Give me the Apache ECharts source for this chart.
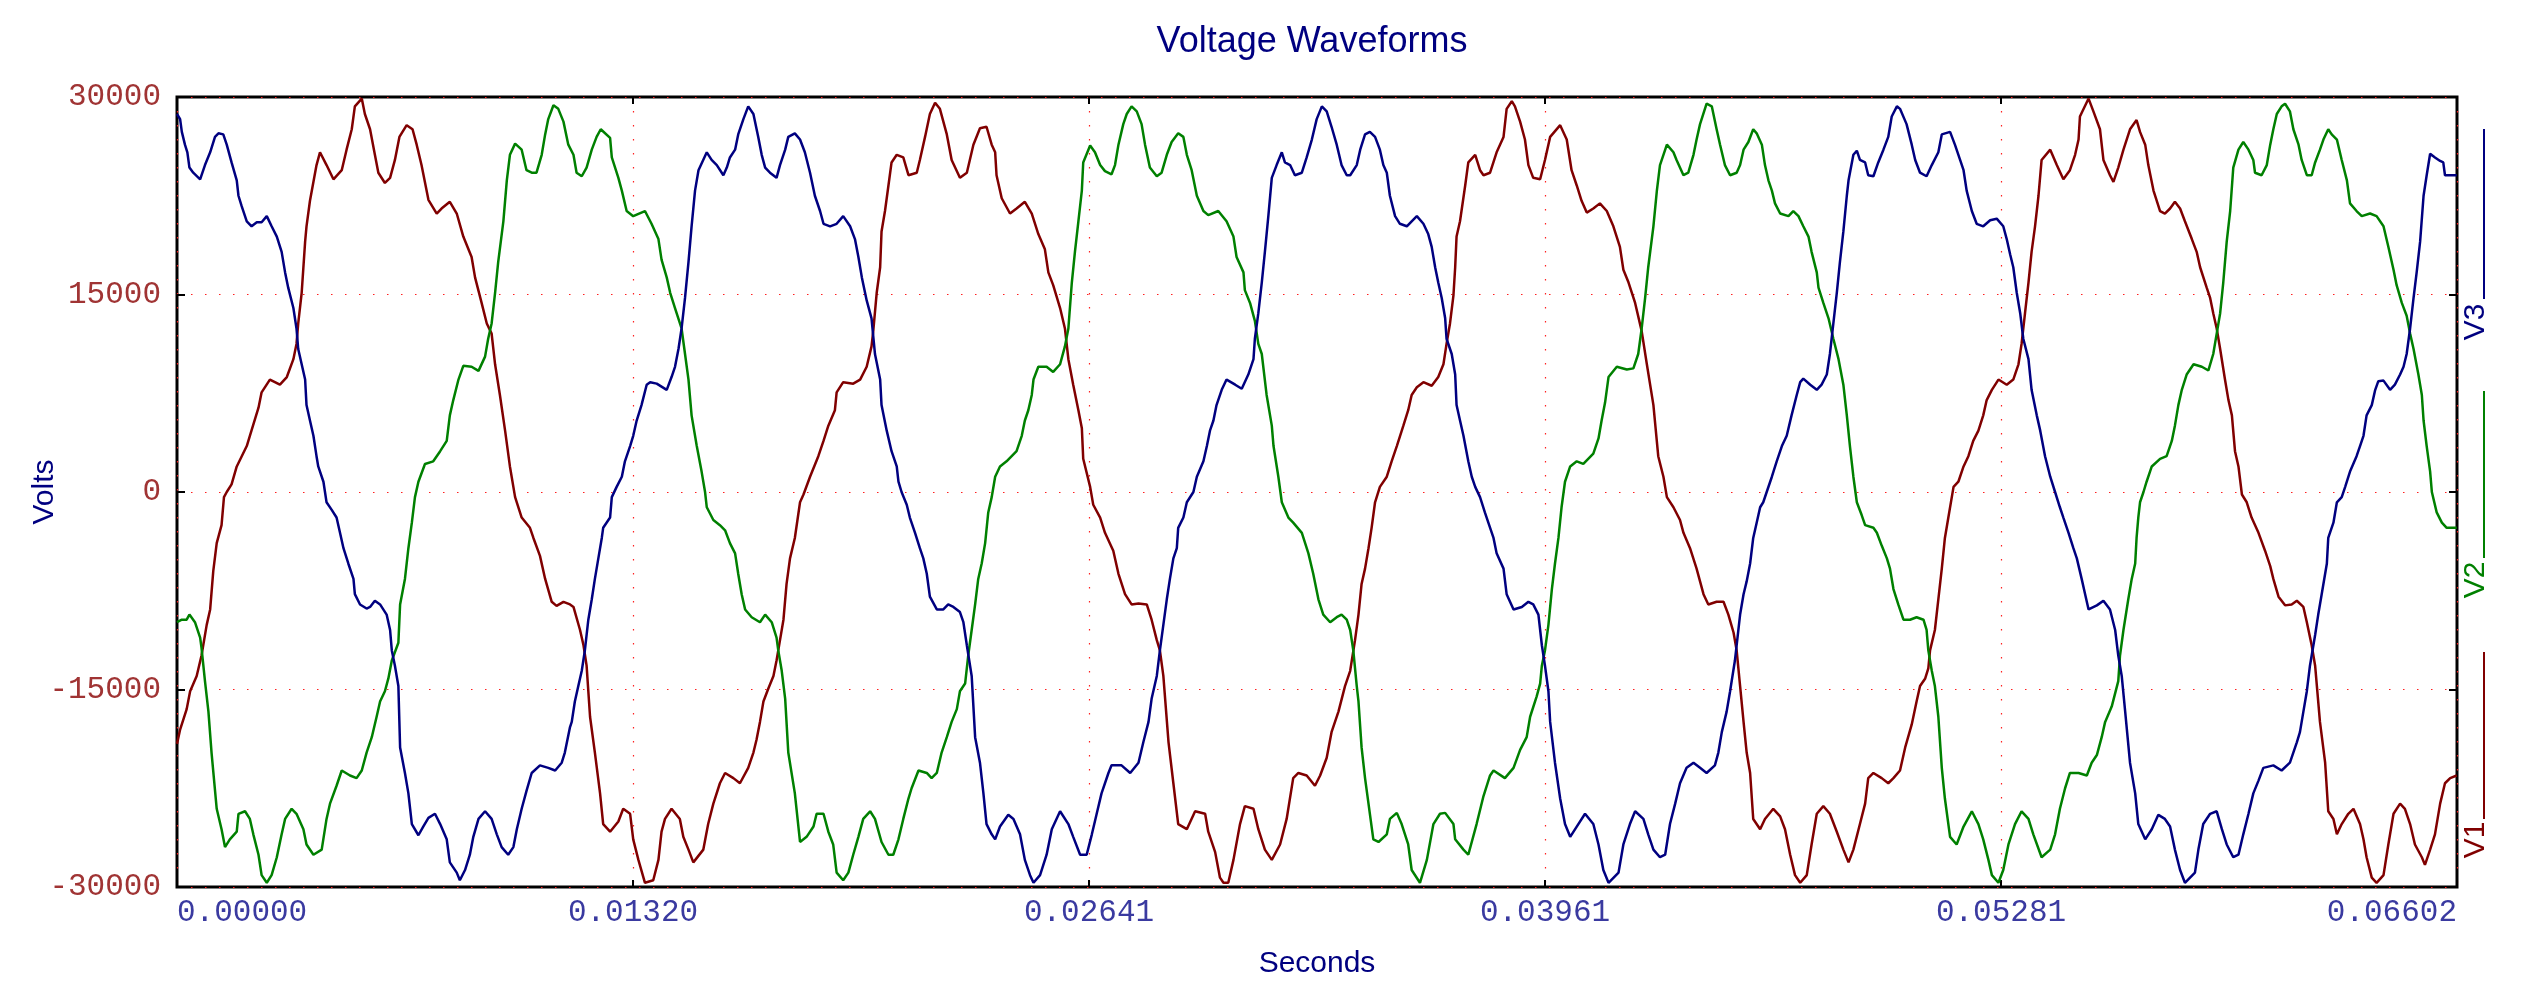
<!DOCTYPE html>
<html><head><meta charset="utf-8">
<script src="https://cdn.jsdelivr.net/npm/echarts@6/dist/echarts.min.js"></script>
<style>html,body{margin:0;padding:0;background:#fff}#c{width:2521px;height:1004px}</style>
</head><body><div id="c"></div>
<script>
const titleText = 'Voltage Waveforms';
const xName = 'Seconds';
const yName = 'Volts';
const seriesNames = ['V1', 'V2', 'V3'];
const seriesColors = ['#800000', '#008000', '#000080'];
const xTickLabels = ['0.00000', '0.01320', '0.02641', '0.03961', '0.05281', '0.06602'];
const yTickValues = [-30000, -15000, 0, 15000, 30000];

// [seconds, volts]
const V1 = [
[0,-19130],[0.00009,-18040],[0.00028,-16490],[0.00038,-15130],[0.00057,-13970],[0.00071,-12420],[0.00086,-10090],[0.00096,-8920],[0.00105,-6010],[0.00115,-3880],[0.00129,-2520],[0.00136,-390],[0.00144,0],[0.00158,580],[0.00173,1940],[0.00202,3490],[0.00211,4270],[0.00236,6400],[0.00245,7570],[0.00269,8540],[0.00298,8150],[0.00318,8730],[0.00337,10090],[0.00346,11250],[0.00351,12800],[0.00361,15130],[0.00371,19010],[0.00375,20180],[0.00385,22120],[0.00404,24830],[0.00414,25800],[0.00433,24830],[0.00453,23750],[0.00477,24440],[0.00491,26000],[0.00506,27550],[0.00515,29290],[0.00535,29880],[0.00544,28710],[0.00559,27550],[0.00573,25610],[0.00583,24250],[0.00602,23470],[0.00617,23860],[0.00631,25220],[0.00644,26970],[0.00665,27860],[0.00682,27550],[0.00694,26380],[0.00708,24830],[0.00728,22190],[0.00752,21150],[0.00766,21530],[0.00790,22040],[0.00810,21150],[0.00829,19400],[0.00853,17850],[0.00863,16300],[0.00882,14360],[0.00897,12800],[0.00911,12030],[0.00921,9700],[0.00935,7370],[0.00950,4660],[0.00964,1940],[0.00979,-390],[0.00998,-1940],[0.01022,-2720],[0.01032,-3490],[0.01051,-4850],[0.01066,-6600],[0.01085,-8340],[0.01099,-8650],[0.01119,-8340],[0.01138,-8540],
[0.01148,-8730],[0.01167,-10480],[0.01177,-11640],[0.01186,-13190],[0.01196,-17070],[0.01210,-19790],[0.01225,-22890],[0.01234,-25220],[0.01254,-25800],[0.01278,-25030],[0.01292,-24060],[0.01312,-24440],[0.01321,-26380],[0.01336,-27940],[0.01355,-29680],[0.01379,-29490],[0.01394,-27940],[0.01403,-25800],[0.01413,-24830],[0.01432,-24060],[0.01456,-24830],[0.01466,-26190],[0.01481,-27160],[0.01495,-28130],[0.01524,-27160],[0.01538,-25220],[0.01553,-23670],[0.01572,-22120],[0.01587,-21340],[0.01611,-21730],[0.01630,-22120],[0.01654,-20950],[0.01669,-19790],[0.01678,-18820],[0.01688,-17460],[0.01698,-15910],[0.01712,-14940],[0.01727,-13970],[0.01736,-12800],[0.01746,-11250],[0.01756,-9700],[0.01765,-6980],[0.01775,-5040],[0.01789,-3490],[0.01804,-780],[0.01814,-190],[0.01833,1160],[0.01857,2720],[0.01872,3880],[0.01886,5040],[0.01905,6210],[0.01910,7570],[0.01929,8340],[0.01958,8230],[0.01978,8540],[0.01997,9510],[0.02011,11060],[0.02016,12220],[0.02026,15130],[0.02036,17070],[0.02040,19790],[0.02050,21340],[0.02060,23280],[0.02069,25030],[0.02084,25610],[0.02103,25410],[0.02118,24060],[0.02142,24250],[0.02151,25220],[0.02166,26970],[0.02180,28710],[0.02195,29570],[0.02209,29100],[0.02229,27160],[0.02243,25220],[0.02267,23860],
[0.02287,24250],[0.02306,26380],[0.02325,27630],[0.02344,27740],[0.02359,26380],[0.02369,25800],[0.02373,24060],[0.02388,22310],[0.02412,21150],[0.02431,21530],[0.02455,22040],[0.02475,21150],[0.02494,19590],[0.02513,18430],[0.02523,16680],[0.02537,15710],[0.02557,13970],[0.02571,12420],[0.02581,10090],[0.02595,8150],[0.02610,6210],[0.02620,4850],[0.02624,2520],[0.02644,390],[0.02653,-970],[0.02673,-1940],[0.02687,-3100],[0.02711,-4460],[0.02726,-6210],[0.02745,-7760],[0.02764,-8540],[0.02784,-8460],[0.02808,-8540],[0.02822,-9700],[0.02837,-11250],[0.02846,-12030],[0.02856,-13970],[0.02871,-19010],[0.02885,-22120],[0.02899,-25220],[0.02924,-25610],[0.02948,-24250],[0.02977,-24440],[0.02986,-25800],[0.03006,-27350],[0.03020,-29290],[0.03030,-29680],[0.03044,-29680],[0.03059,-27940],[0.03078,-25220],[0.03092,-23860],[0.03117,-24060],[0.03131,-25610],[0.03150,-27160],[0.03170,-27940],[0.03194,-26770],[0.03213,-24830],[0.03232,-21730],[0.03247,-21340],[0.03271,-21530],[0.03295,-22310],[0.03310,-21530],[0.03329,-20180],[0.03343,-18240],[0.03363,-16680],[0.03382,-14740],[0.03397,-13580],
[0.03411,-11250],[0.03421,-9310],[0.03430,-6980],[0.03440,-5820],[0.03450,-4270],[0.03459,-2720],[0.03469,-780],[0.03483,390],[0.03503,1160],[0.03517,2330],[0.03532,3490],[0.03551,5040],[0.03565,6210],[0.03575,7370],[0.03590,7950],[0.03609,8340],[0.03633,8070],[0.03652,8730],[0.03667,9700],[0.03676,11250],[0.03686,12800],[0.03696,14940],[0.03701,17070],[0.03705,19400],[0.03715,20560],[0.03730,23280],[0.03739,25030],[0.03759,25610],[0.03773,24440],[0.03783,24060],[0.03802,24250],[0.03821,25800],[0.03841,26970],[0.03850,29100],[0.03865,29680],[0.03874,29290],[0.03889,28130],[0.03903,26770],[0.03913,24830],[0.03927,23860],[0.03947,23750],[0.03961,25220],[0.03976,26970],[0.04005,27860],[0.04024,26770],[0.04038,24440],[0.04053,23280],[0.04067,22120],[0.04082,21220],[0.04101,21530],[0.04120,21920],[0.04140,21340],[0.04159,20180],[0.04178,18620],[0.04188,16880],[0.04203,15910],[0.04222,14360],[0.04241,12220],[0.04256,9700],[0.04275,6600],[0.04289,2720],[0.04304,1160],[0.04314,-390],[0.04333,-1160],[0.04352,-2130],[0.04362,-3100],[0.04381,-4270],[0.04400,-5820],[0.04420,-7760],[0.04434,-8540],[0.04458,-8340],[0.04478,-8340],[0.04492,-9310],[0.04507,-10670],[0.04516,-12030],
[0.04526,-14740],[0.04536,-17460],[0.04545,-19790],[0.04555,-21340],[0.04564,-24830],[0.04584,-25610],[0.04598,-24830],[0.04622,-24060],[0.04642,-24640],[0.04656,-25610],[0.04671,-27550],[0.04685,-29100],[0.04700,-29680],[0.04719,-29100],[0.04733,-26770],[0.04748,-24440],[0.04767,-23860],[0.04786,-24440],[0.04806,-25800],[0.04825,-27160],[0.04840,-28130],[0.04854,-27160],[0.04873,-25220],[0.04888,-23670],[0.04897,-21730],[0.04912,-21340],[0.04936,-21730],[0.04955,-22120],[0.04970,-21730],[0.04989,-21150],[0.05004,-19400],[0.05023,-17650],[0.05037,-15910],[0.05047,-14740],[0.05062,-14160],[0.05071,-13390],[0.05076,-12030],[0.05090,-10480],[0.05100,-8150],[0.05110,-5820],[0.05119,-3490],[0.05129,-1940],[0.05144,390],[0.05158,780],[0.05173,1940],[0.05187,2720],[0.05201,3880],[0.05216,4660],[0.05230,5820],[0.05240,6980],[0.05255,7760],[0.05274,8540],[0.05298,8150],[0.05317,8540],[0.05332,9700],[0.05341,11250],[0.05351,13580],[0.05361,15910],[0.05370,18240],[0.05380,20180],[0.05390,22500],[0.05399,25220],[0.05424,26000],[0.05443,24830],[0.05462,23750],[0.05481,24440],[0.05496,25610],[0.05506,26770],[0.05510,28520],[0.05535,29880],[0.05549,28910],[0.05568,27550],[0.05578,25220],[0.05597,24060],[0.05607,23550],[0.05621,24640],[0.05636,26000],[0.05655,27550],
[0.05674,28250],[0.05684,27350],[0.05699,26380],[0.05708,24830],[0.05723,22890],[0.05742,21340],[0.05756,21150],[0.05771,21530],[0.05785,22040],[0.05800,21530],[0.05814,20560],[0.05834,19210],[0.05848,18240],[0.05858,17070],[0.05877,15520],[0.05887,14740],[0.05896,13580],[0.05906,12420],[0.05916,10860],[0.05930,8540],[0.05940,6980],[0.05950,5820],[0.05959,3100],[0.05969,1940],[0.05979,-190],[0.05993,-780],[0.06007,-1940],[0.06027,-3100],[0.06046,-4460],[0.06061,-5630],[0.06070,-6600],[0.06085,-7950],[0.06104,-8610],[0.06123,-8540],[0.06138,-8260],[0.06157,-8730],[0.06167,-9890],[0.06181,-11640],[0.06191,-13190],[0.06205,-17460],[0.06220,-20560],[0.06229,-24250],[0.06244,-24830],[0.06254,-26000],[0.06268,-25220],[0.06287,-24440],[0.06302,-24060],[0.06321,-25220],[0.06331,-26380],[0.06340,-27740],[0.06355,-29290],[0.06369,-29680],[0.06389,-29100],[0.06403,-26770],[0.06418,-24440],[0.06437,-23670],[0.06451,-24060],[0.06466,-25220],[0.06480,-26770],[0.06500,-27740],[0.06509,-28320],[0.06524,-27160],[0.06538,-26000],[0.06553,-23670],[0.06567,-22120],[0.06582,-21730],[0.06601,-21530]
];

const V2 = [
[0,-9890],[0.00014,-9700],[0.00028,-9700],[0.00036,-9310],[0.00052,-9890],[0.00067,-11060],[0.00071,-11830],[0.00081,-14360],[0.00091,-16680],[0.00100,-19790],[0.00115,-24060],[0.00129,-25610],[0.00139,-26970],[0.00153,-26380],[0.00173,-25800],[0.00178,-24440],[0.00197,-24250],[0.00211,-24830],[0.00221,-26000],[0.00236,-27550],[0.00245,-29100],[0.00260,-29680],[0.00274,-29100],[0.00289,-27740],[0.00303,-26000],[0.00313,-24830],[0.00332,-24060],[0.00346,-24440],[0.00366,-25610],[0.00375,-26770],[0.00395,-27550],[0.00419,-27160],[0.00433,-24830],[0.00443,-23670],[0.00462,-22310],[0.00477,-21150],[0.00501,-21530],[0.00520,-21730],[0.00535,-21150],[0.00549,-19790],[0.00564,-18620],[0.00578,-17070],[0.00588,-15910],[0.00602,-15130],[0.00612,-14160],[0.00622,-12800],[0.00641,-11450],[0.00646,-8540],[0.00660,-6600],[0.00670,-4270],[0.00680,-2330],[0.00689,-390],[0.00699,780],[0.00718,2130],[0.00742,2330],[0.00762,3100],[0.00781,3880],[0.00790,5820],[0.00800,6980],[0.00815,8540],[0.00829,9580],[0.00853,9510],[0.00873,9200],[0.00892,10280],[0.00901,11640],[0.00911,12800],[0.00921,15130],[0.00930,17460],[0.00945,20560],[0.00955,23670],[0.00964,25610],[0.00979,26460],[0.00998,26000],[0.01012,24440],[0.01027,24250],[0.01041,24250],[0.01056,25610],[0.01066,27160],[0.01075,28320],[0.01090,29370],[0.01104,29100],[0.01119,28130],[0.01133,26380],
[0.01148,25610],[0.01157,24250],[0.01172,23980],[0.01186,24640],[0.01201,26000],[0.01215,26970],[0.01227,27550],[0.01254,26890],[0.01259,25410],[0.01278,23860],[0.01288,22890],[0.01302,21340],[0.01321,20950],[0.01355,21340],[0.01374,20370],[0.01394,19210],[0.01403,17650],[0.01418,16300],[0.01428,15130],[0.01442,13970],[0.01461,12420],[0.01471,10480],[0.01481,8540],[0.01490,5820],[0.01505,3490],[0.01519,1550],[0.01529,0],[0.01534,-1160],[0.01553,-2130],[0.01572,-2520],[0.01587,-2910],[0.01601,-3880],[0.01616,-4660],[0.01625,-6210],[0.01635,-7760],[0.01645,-8920],[0.01664,-9510],[0.01688,-9890],[0.01703,-9310],[0.01722,-9890],[0.01736,-11060],[0.01741,-12030],[0.01751,-13580],[0.01761,-15710],[0.01770,-19790],[0.01789,-22890],[0.01804,-26580],[0.01823,-26190],[0.01843,-25410],[0.01852,-24440],[0.01872,-24440],[0.01886,-25800],[0.01900,-26770],[0.01910,-28910],[0.01929,-29490],[0.01944,-28910],[0.01958,-27550],[0.01973,-26190],[0.01987,-24830],[0.02007,-24250],[0.02021,-24830],[0.02040,-26580],[0.02060,-27550],[0.02074,-27550],[0.02089,-26380],[0.02103,-24830],[0.02118,-23280],[0.02127,-22500],[0.02147,-21150],[0.02171,-21340],[0.02185,-21730],[0.02200,-21340],[0.02214,-19790],[0.02229,-18620],[0.02243,-17460],[0.02258,-16490],[0.02267,-15130],
[0.02282,-14550],[0.02291,-12420],[0.02301,-10480],[0.02311,-8540],[0.02320,-6600],[0.02330,-5430],[0.02340,-3880],[0.02349,-1550],[0.02359,-390],[0.02369,1160],[0.02383,1940],[0.02402,2330],[0.02431,3100],[0.02446,4270],[0.02455,5430],[0.02465,6210],[0.02475,7370],[0.02480,8540],[0.02494,9510],[0.02518,9510],[0.02537,9120],[0.02557,9700],[0.02571,11060],[0.02581,12420],[0.02591,15910],[0.02600,18240],[0.02610,20560],[0.02620,22890],[0.02624,25030],[0.02644,26310],[0.02658,25800],[0.02673,24830],[0.02687,24370],[0.02706,24130],[0.02716,24830],[0.02726,26380],[0.02740,27940],[0.02750,28710],[0.02764,29290],[0.02779,28910],[0.02793,27940],[0.02803,26380],[0.02817,24640],[0.02837,23980],[0.02851,24250],[0.02866,25610],[0.02880,26580],[0.02899,27240],[0.02914,26970],[0.02924,25610],[0.02938,24440],[0.02953,22500],[0.02972,21340],[0.02986,21030],[0.03015,21340],[0.03039,20560],[0.03059,19400],[0.03068,17850],[0.03088,16680],[0.03092,15330],[0.03107,14360],[0.03121,13000],[0.03131,11250],[0.03141,10480],[0.03155,7370],[0.03170,5040],[0.03175,3490],[0.03189,1160],[0.03199,-780],[0.03218,-1940],[0.03232,-2330],[0.03257,-3100],[0.03276,-4660],[0.03290,-6210],[0.03305,-8150],[0.03319,-9310],[0.03339,-9890],[0.03358,-9510],[0.03372,-9310],[0.03387,-9700],[0.03397,-10480],
[0.03406,-12030],[0.03416,-14740],[0.03421,-15910],[0.03430,-19400],[0.03440,-21730],[0.03450,-23670],[0.03464,-26380],[0.03479,-26580],[0.03503,-26000],[0.03512,-24830],[0.03532,-24370],[0.03546,-25220],[0.03565,-26770],[0.03575,-28710],[0.03599,-29680],[0.03619,-27940],[0.03638,-25220],[0.03657,-24440],[0.03672,-24370],[0.03696,-25220],[0.03701,-26380],[0.03725,-27160],[0.03739,-27550],[0.03763,-25220],[0.03783,-23090],[0.03802,-21530],[0.03812,-21150],[0.03845,-21730],[0.03870,-20950],[0.03889,-19590],[0.03908,-18620],[0.03918,-17070],[0.03937,-15520],[0.03947,-14550],[0.03952,-13190],[0.03961,-12030],[0.03971,-10090],[0.03981,-7370],[0.03990,-5430],[0.04000,-3490],[0.04009,-1160],[0.04019,780],[0.04034,1940],[0.04053,2330],[0.04072,2130],[0.04101,2910],[0.04116,4070],[0.04125,5430],[0.04135,6790],[0.04145,8730],[0.04169,9510],[0.04198,9310],[0.04217,9390],[0.04231,10480],[0.04241,12420],[0.04251,14740],[0.04260,17070],[0.04275,20180],[0.04285,22890],[0.04294,24830],[0.04314,26380],[0.04333,25800],[0.04342,25220],[0.04362,24060],[0.04376,24250],[0.04391,25610],[0.04400,26770],[0.04410,27940],[0.04429,29490],[0.04444,29290],[0.04458,27550],[0.04468,26380],[0.04482,24830],[0.04497,24060],[0.04516,24250],[0.04526,24830],
[0.04536,26000],[0.04550,26580],[0.04564,27550],[0.04574,27240],[0.04589,26380],[0.04598,24830],[0.04608,23670],[0.04618,22890],[0.04627,21920],[0.04642,21150],[0.04666,20950],[0.04680,21340],[0.04695,20950],[0.04709,20180],[0.04724,19400],[0.04733,18240],[0.04748,16680],[0.04753,15520],[0.04767,14360],[0.04782,13190],[0.04796,11640],[0.04811,10090],[0.04825,8150],[0.04835,5820],[0.04844,3490],[0.04854,1160],[0.04864,-780],[0.04878,-1750],[0.04888,-2520],[0.04912,-2720],[0.04922,-3100],[0.04936,-4070],[0.04951,-5040],[0.04960,-5820],[0.04970,-7370],[0.04984,-8540],[0.04999,-9700],[0.05018,-9700],[0.05037,-9510],[0.05057,-9700],[0.05066,-10480],[0.05071,-12030],[0.05081,-13580],[0.05090,-14740],[0.05100,-17070],[0.05110,-20950],[0.05119,-23280],[0.05134,-26190],[0.05153,-26770],[0.05173,-25410],[0.05197,-24250],[0.05216,-25220],[0.05230,-26380],[0.05245,-27940],[0.05255,-29100],[0.05274,-29680],[0.05288,-28710],[0.05303,-26770],[0.05322,-25220],[0.05341,-24250],[0.05361,-24830],[0.05375,-26000],[0.05399,-27740],[0.05424,-27160],[0.05438,-26000],[0.05452,-24060],[0.05467,-22500],[0.05481,-21340],[0.05506,-21340],[0.05530,-21530],[0.05544,-20560],[0.05559,-19980],[0.05573,-18620],[0.05583,-17460],[0.05602,-16300],[0.05621,-14360],
[0.05626,-12420],[0.05636,-10480],[0.05650,-8150],[0.05660,-6600],[0.05670,-5430],[0.05674,-3490],[0.05679,-1940],[0.05684,-780],[0.05694,0],[0.05703,780],[0.05718,1940],[0.05742,2520],[0.05761,2720],[0.05776,3880],[0.05785,5040],[0.05795,6600],[0.05805,7760],[0.05819,8920],[0.05839,9700],[0.05863,9510],[0.05882,9230],[0.05896,10480],[0.05906,12030],[0.05916,13580],[0.05925,15910],[0.05935,19010],[0.05945,21340],[0.05954,24640],[0.05969,26000],[0.05983,26580],[0.05998,26000],[0.06012,25220],[0.06017,24250],[0.06036,24060],[0.06051,24830],[0.06061,26380],[0.06070,27550],[0.06080,28710],[0.06094,29290],[0.06104,29490],[0.06118,28910],[0.06128,27550],[0.06143,26380],[0.06152,25220],[0.06167,24060],[0.06181,24060],[0.06191,25030],[0.06205,26000],[0.06215,26770],[0.06229,27550],[0.06239,27160],[0.06254,26770],[0.06268,25220],[0.06283,23670],[0.06292,21920],[0.06311,21340],[0.06326,20950],[0.06350,21150],[0.06369,20950],[0.06389,20180],[0.06403,18620],[0.06418,16880],[0.06427,15710],[0.06442,14360],[0.06456,13390],[0.06466,12030],[0.06476,10860],[0.06490,8920],[0.06500,7370],[0.06505,5430],[0.06514,3490],[0.06524,1550],[0.06529,0],[0.06543,-1550],[0.06558,-2330],[0.06572,-2720],[0.06601,-2720]
];

const V3 = [
[0,28710],[0.00009,28320],[0.00014,27350],[0.00023,26380],[0.00030,25800],[0.00036,24640],[0.00047,24250],[0.00067,23750],[0.00081,24830],[0.00096,25800],[0.00110,26970],[0.00120,27240],[0.00134,27160],[0.00144,26380],[0.00158,25030],[0.00173,23670],[0.00178,22500],[0.00187,21730],[0.00202,20560],[0.00216,20180],[0.00231,20490],[0.00245,20490],[0.00260,20950],[0.00274,20180],[0.00289,19400],[0.00303,18240],[0.00313,16680],[0.00322,15520],[0.00337,13970],[0.00346,12420],[0.00351,10860],[0.00361,9700],[0.00371,8540],[0.00375,6600],[0.00385,5430],[0.00395,4270],[0.00404,2720],[0.00409,1940],[0.00424,780],[0.00433,-780],[0.00448,-1360],[0.00462,-1940],[0.00472,-3100],[0.00482,-4270],[0.00496,-5430],[0.00511,-6600],[0.00515,-7760],[0.00530,-8540],[0.00549,-8850],[0.00559,-8730],[0.00573,-8260],[0.00588,-8540],[0.00607,-9310],[0.00617,-10480],[0.00622,-12030],[0.00631,-13190],[0.00641,-14740],[0.00646,-19400],[0.00660,-21340],[0.00670,-22890],[0.00680,-25220],[0.00699,-26070],[0.00713,-25410],[0.00728,-24750],[0.00747,-24440],[0.00762,-25220],[0.00781,-26380],[0.00790,-28130],[0.00810,-28910],[0.00819,-29490],[0.00834,-28710],[0.00848,-27550],[0.00858,-26190],[0.00873,-24830],[0.00892,-24250],[0.00911,-24830],[0.00926,-26000],[0.00940,-26970],[0.00959,-27550],[0.00974,-26970],[0.00984,-25610],[0.00998,-24060],[0.01012,-22700],[0.01027,-21340],[0.01051,-20760],[0.01075,-20950],[0.01095,-21150],[0.01114,-20560],[0.01123,-19790],[0.01138,-17850],
[0.01143,-17460],[0.01152,-15910],[0.01162,-14740],[0.01172,-13580],[0.01181,-12030],[0.01191,-9700],[0.01201,-8150],[0.01210,-6600],[0.01220,-5040],[0.01230,-3490],[0.01234,-2720],[0.01254,-1940],[0.01259,-390],[0.01273,390],[0.01288,1160],[0.01297,2330],[0.01312,3490],[0.01321,4270],[0.01331,5430],[0.01345,6600],[0.01360,8150],[0.01370,8340],[0.01389,8230],[0.01418,7760],[0.01432,8730],[0.01442,9510],[0.01452,10860],[0.01461,12420],[0.01471,14740],[0.01481,17460],[0.01490,20180],[0.01500,22890],[0.01510,24440],[0.01534,25800],[0.01548,25220],[0.01563,24830],[0.01582,24060],[0.01592,24640],[0.01601,25410],[0.01616,26000],[0.01625,27160],[0.01640,28320],[0.01654,29290],[0.01669,28710],[0.01683,26970],[0.01693,25610],[0.01703,24640],[0.01717,24250],[0.01736,23860],[0.01746,24830],[0.01761,26000],[0.01770,26970],[0.01789,27240],[0.01804,26770],[0.01818,25800],[0.01833,24250],[0.01847,22500],[0.01862,21340],[0.01872,20370],[0.01891,20180],[0.01910,20370],[0.01929,20950],[0.01949,20180],[0.01963,19210],[0.01973,17850],[0.01983,16300],[0.01997,14550],[0.02011,13190],[0.02021,10480],[0.02036,8540],[0.02040,6600],[0.02055,4660],[0.02069,3100],[0.02084,1940],[0.02089,780],[0.02098,0],[0.02113,-970],[0.02122,-1940],[0.02137,-3100],[0.02151,-4270],[0.02161,-5040],[0.02171,-6210],[0.02180,-7950],[0.02200,-8920],[0.02219,-8920],[0.02233,-8540],[0.02248,-8730],[0.02267,-9120],
[0.02277,-9890],[0.02287,-11640],[0.02301,-13970],[0.02311,-18620],[0.02325,-20560],[0.02335,-22890],[0.02344,-25220],[0.02359,-26000],[0.02369,-26380],[0.02383,-25410],[0.02407,-24520],[0.02422,-24830],[0.02441,-26000],[0.02455,-27940],[0.02470,-29100],[0.02480,-29680],[0.02499,-29100],[0.02518,-27550],[0.02533,-25610],[0.02557,-24250],[0.02581,-25220],[0.02595,-26190],[0.02615,-27550],[0.02634,-27550],[0.02649,-26000],[0.02663,-24440],[0.02677,-22890],[0.02697,-21340],[0.02706,-20760],[0.02735,-20760],[0.02760,-21340],[0.02784,-20560],[0.02798,-19010],[0.02813,-17460],[0.02822,-15710],[0.02837,-13970],[0.02846,-12030],[0.02856,-10090],[0.02866,-8150],[0.02875,-6600],[0.02885,-5040],[0.02895,-4270],[0.02899,-2720],[0.02914,-1940],[0.02924,-780],[0.02943,0],[0.02953,1160],[0.02972,2330],[0.02982,3490],[0.02991,4660],[0.03001,5430],[0.03010,6600],[0.03025,7760],[0.03039,8540],[0.03064,8150],[0.03083,7840],[0.03102,8920],[0.03117,10090],[0.03121,11640],[0.03131,13580],[0.03141,15910],[0.03150,18240],[0.03160,20950],[0.03170,23860],[0.03184,24830],[0.03199,25800],[0.03208,25030],[0.03223,24830],[0.03237,24060],[0.03257,24250],[0.03271,25410],[0.03286,26770],[0.03300,28320],[0.03315,29290],[0.03329,28910],[0.03343,27740],[0.03358,26380],[0.03372,24830],[0.03387,24060],[0.03397,24060],
[0.03401,23980],[0.03416,24830],[0.03426,26000],[0.03440,27160],[0.03454,27350],[0.03469,26970],[0.03483,26000],[0.03493,24830],[0.03503,24250],[0.03512,22500],[0.03527,20950],[0.03541,20370],[0.03561,20180],[0.03575,20560],[0.03590,20950],[0.03609,20370],[0.03623,19590],[0.03633,18620],[0.03643,17070],[0.03652,15910],[0.03662,14740],[0.03672,13190],[0.03676,11640],[0.03691,10480],[0.03701,8920],[0.03705,6600],[0.03715,5430],[0.03725,4270],[0.03739,2330],[0.03749,1160],[0.03759,390],[0.03773,-390],[0.03787,-1550],[0.03797,-2330],[0.03812,-3490],[0.03821,-4660],[0.03841,-5820],[0.03850,-7760],[0.03870,-8920],[0.03894,-8730],[0.03913,-8340],[0.03927,-8540],[0.03942,-9310],[0.03952,-11640],[0.03961,-13190],[0.03971,-15130],[0.03976,-17460],[0.03990,-20560],[0.04005,-23280],[0.04019,-25220],[0.04034,-26190],[0.04053,-25410],[0.04077,-24440],[0.04101,-25220],[0.04116,-26770],[0.04130,-28710],[0.04145,-29680],[0.04174,-28910],[0.04188,-26770],[0.04207,-25220],[0.04222,-24250],[0.04246,-24830],[0.04260,-26000],[0.04275,-27160],[0.04294,-27740],[0.04309,-27550],[0.04323,-25220],[0.04338,-23670],[0.04352,-22120],[0.04371,-20950],[0.04391,-20560],[0.04410,-20950],[0.04429,-21340],[0.04453,-20760],[0.04463,-19790],[0.04473,-18240],[0.04487,-16680],[0.04497,-15130],[0.04511,-12800],[0.04526,-9310],
[0.04536,-7760],[0.04545,-6790],[0.04555,-5430],[0.04564,-3490],[0.04574,-2330],[0.04584,-1160],[0.04593,-780],[0.04603,0],[0.04618,1160],[0.04632,2330],[0.04647,3490],[0.04661,4270],[0.04675,5820],[0.04690,7370],[0.04700,8340],[0.04709,8610],[0.04729,8150],[0.04748,7760],[0.04762,8150],[0.04777,8920],[0.04786,10480],[0.04796,12800],[0.04806,15130],[0.04815,17460],[0.04825,19790],[0.04835,22500],[0.04840,23670],[0.04854,25610],[0.04864,25920],[0.04873,25220],[0.04888,25030],[0.04897,24060],[0.04912,23980],[0.04926,25030],[0.04941,26000],[0.04955,26970],[0.04965,28520],[0.04980,29290],[0.04989,29100],[0.05008,27940],[0.05023,26380],[0.05033,25220],[0.05047,24250],[0.05066,23980],[0.05081,24830],[0.05100,25800],[0.05110,27160],[0.05134,27350],[0.05148,26380],[0.05163,25220],[0.05173,24440],[0.05182,22890],[0.05197,21340],[0.05211,20370],[0.05230,20180],[0.05250,20640],[0.05269,20760],[0.05288,20180],[0.05298,19210],[0.05308,18040],[0.05317,17070],[0.05327,15130],[0.05337,13580],[0.05346,11640],[0.05361,10090],[0.05370,7760],[0.05385,5820],[0.05395,4660],[0.05409,2720],[0.05424,1160],[0.05438,0],[0.05452,-1160],[0.05462,-1940],[0.05477,-3100],[0.05491,-4270],[0.05501,-5040],[0.05515,-6600],[0.05525,-7760],[0.05535,-8920],[0.05559,-8610],[0.05578,-8260],[0.05597,-8920],[0.05612,-10480],[0.05621,-12420],[0.05631,-13970],[0.05641,-16680],[0.05655,-20560],
[0.05670,-22890],[0.05679,-25220],[0.05699,-26380],[0.05718,-25610],[0.05737,-24520],[0.05756,-24830],[0.05771,-25410],[0.05785,-27160],[0.05800,-28710],[0.05814,-29680],[0.05843,-28910],[0.05853,-27160],[0.05867,-25220],[0.05887,-24440],[0.05906,-24250],[0.05921,-25610],[0.05935,-26770],[0.05954,-27740],[0.05969,-27550],[0.05983,-26000],[0.05998,-24440],[0.06012,-22890],[0.06027,-21920],[0.06041,-20950],[0.06070,-20760],[0.06094,-21150],[0.06118,-20560],[0.06138,-19010],[0.06147,-18240],[0.06157,-16680],[0.06167,-15130],[0.06176,-13190],[0.06181,-12420],[0.06191,-10860],[0.06200,-9310],[0.06210,-7760],[0.06225,-5430],[0.06229,-3490],[0.06244,-2330],[0.06254,-780],[0.06268,-390],[0.06278,390],[0.06292,1550],[0.06311,2720],[0.06321,3490],[0.06331,4270],[0.06340,5820],[0.06355,6600],[0.06365,7760],[0.06374,8420],[0.06389,8460],[0.06408,7760],[0.06422,8150],[0.06437,8920],[0.06447,9510],[0.06456,10480],[0.06466,12420],[0.06476,14740],[0.06485,16680],[0.06495,19010],[0.06505,22500],[0.06514,24060],[0.06524,25690],[0.06538,25410],[0.06553,25140],[0.06562,25030],[0.06567,24060],[0.06582,24060],[0.06601,24060]
];

const seriesData = [V1, V2, V3];

const chart = echarts.init(document.getElementById('c'), null, { renderer: 'canvas' });

const tickFont = 'Liberation Mono';
const sansFont = 'Liberation Sans';

const legendSpec = [
  { line: [652, 819], text: 840 },
  { line: [391, 558], text: 580 },
  { line: [129, 299], text: 322 }
];

const graphics = [
  { type: 'text', x: 1312, y: 42, style: { text: titleText, fill: '#000080', font: '36px ' + sansFont, align: 'center', verticalAlign: 'middle' } }
];
seriesNames.forEach((n, i) => {
  const L = legendSpec[i];
  graphics.push({ type: 'line', shape: { x1: 2484, y1: L.line[0], x2: 2484, y2: L.line[1] }, style: { stroke: seriesColors[i], lineWidth: 2 } });
  graphics.push({ type: 'text', x: 2476, y: L.text, rotation: Math.PI / 2, style: { text: n, fill: seriesColors[i], font: '30px ' + sansFont, align: 'center', verticalAlign: 'middle' } });
});

const xMax = 0.066018, xInt = 0.0132036;
const splitStyle = { color: '#ff2020', width: 1.2, type: [1.5, 12.5] };
const tickStyle = { color: '#000', width: 2 };

chart.setOption({
  animation: false,
  backgroundColor: '#ffffff',
  grid: { left: 177, right: 64, top: 97, bottom: 117, show: true, borderColor: '#000', borderWidth: 3, backgroundColor: 'transparent', containLabel: false, outerBoundsMode: 'none' },
  xAxis: [
    { type: 'value', min: 0, max: xMax, interval: xInt, position: 'bottom',
      name: xName, nameLocation: 'middle', nameGap: 62, nameMoveOverlap: false,
      nameTextStyle: { color: '#000080', fontSize: 30, fontFamily: sansFont },
      axisLine: { show: false, onZero: false },
      axisTick: { show: true, inside: true, length: 7, lineStyle: tickStyle },
      axisLabel: { show: true, margin: 10, color: '#3a3aa0', fontSize: 31, fontFamily: tickFont,
        alignMinLabel: 'left', alignMaxLabel: 'right',
        formatter: (v, i) => xTickLabels[i] },
      splitLine: { show: true, lineStyle: splitStyle } },
    { type: 'value', min: 0, max: xMax, interval: xInt, position: 'top',
      axisLine: { show: false, onZero: false }, axisLabel: { show: false }, splitLine: { show: false },
      axisTick: { show: true, inside: true, length: 7, lineStyle: tickStyle } }
  ],
  yAxis: [
    { type: 'value', min: yTickValues[0], max: yTickValues[yTickValues.length - 1], interval: 15000, position: 'left',
      name: yName, nameLocation: 'middle', nameGap: 117, nameRotate: 90, nameMoveOverlap: false,
      nameTextStyle: { color: '#000080', fontSize: 30, fontFamily: sansFont },
      axisLine: { show: false, onZero: false },
      axisTick: { show: true, inside: true, length: 8, lineStyle: tickStyle },
      axisLabel: { show: true, margin: 16, color: '#a03434', fontSize: 31, fontFamily: tickFont,
        formatter: v => String(v) },
      splitLine: { show: true, lineStyle: splitStyle } },
    { type: 'value', min: yTickValues[0], max: yTickValues[yTickValues.length - 1], interval: 15000, position: 'right',
      axisLine: { show: false, onZero: false }, axisLabel: { show: false }, splitLine: { show: false },
      axisTick: { show: true, inside: true, length: 8, lineStyle: tickStyle } }
  ],
  series: seriesNames.map((n, i) => ({
    name: n, type: 'line', xAxisIndex: 0, yAxisIndex: 0,
    data: seriesData[i], showSymbol: false, symbol: 'none',
    lineStyle: { color: seriesColors[i], width: 2.5 },
    itemStyle: { color: seriesColors[i] },
    emphasis: { disabled: true }, silent: true, clip: true
  })),
  graphic: graphics
});
</script>
</body></html>
